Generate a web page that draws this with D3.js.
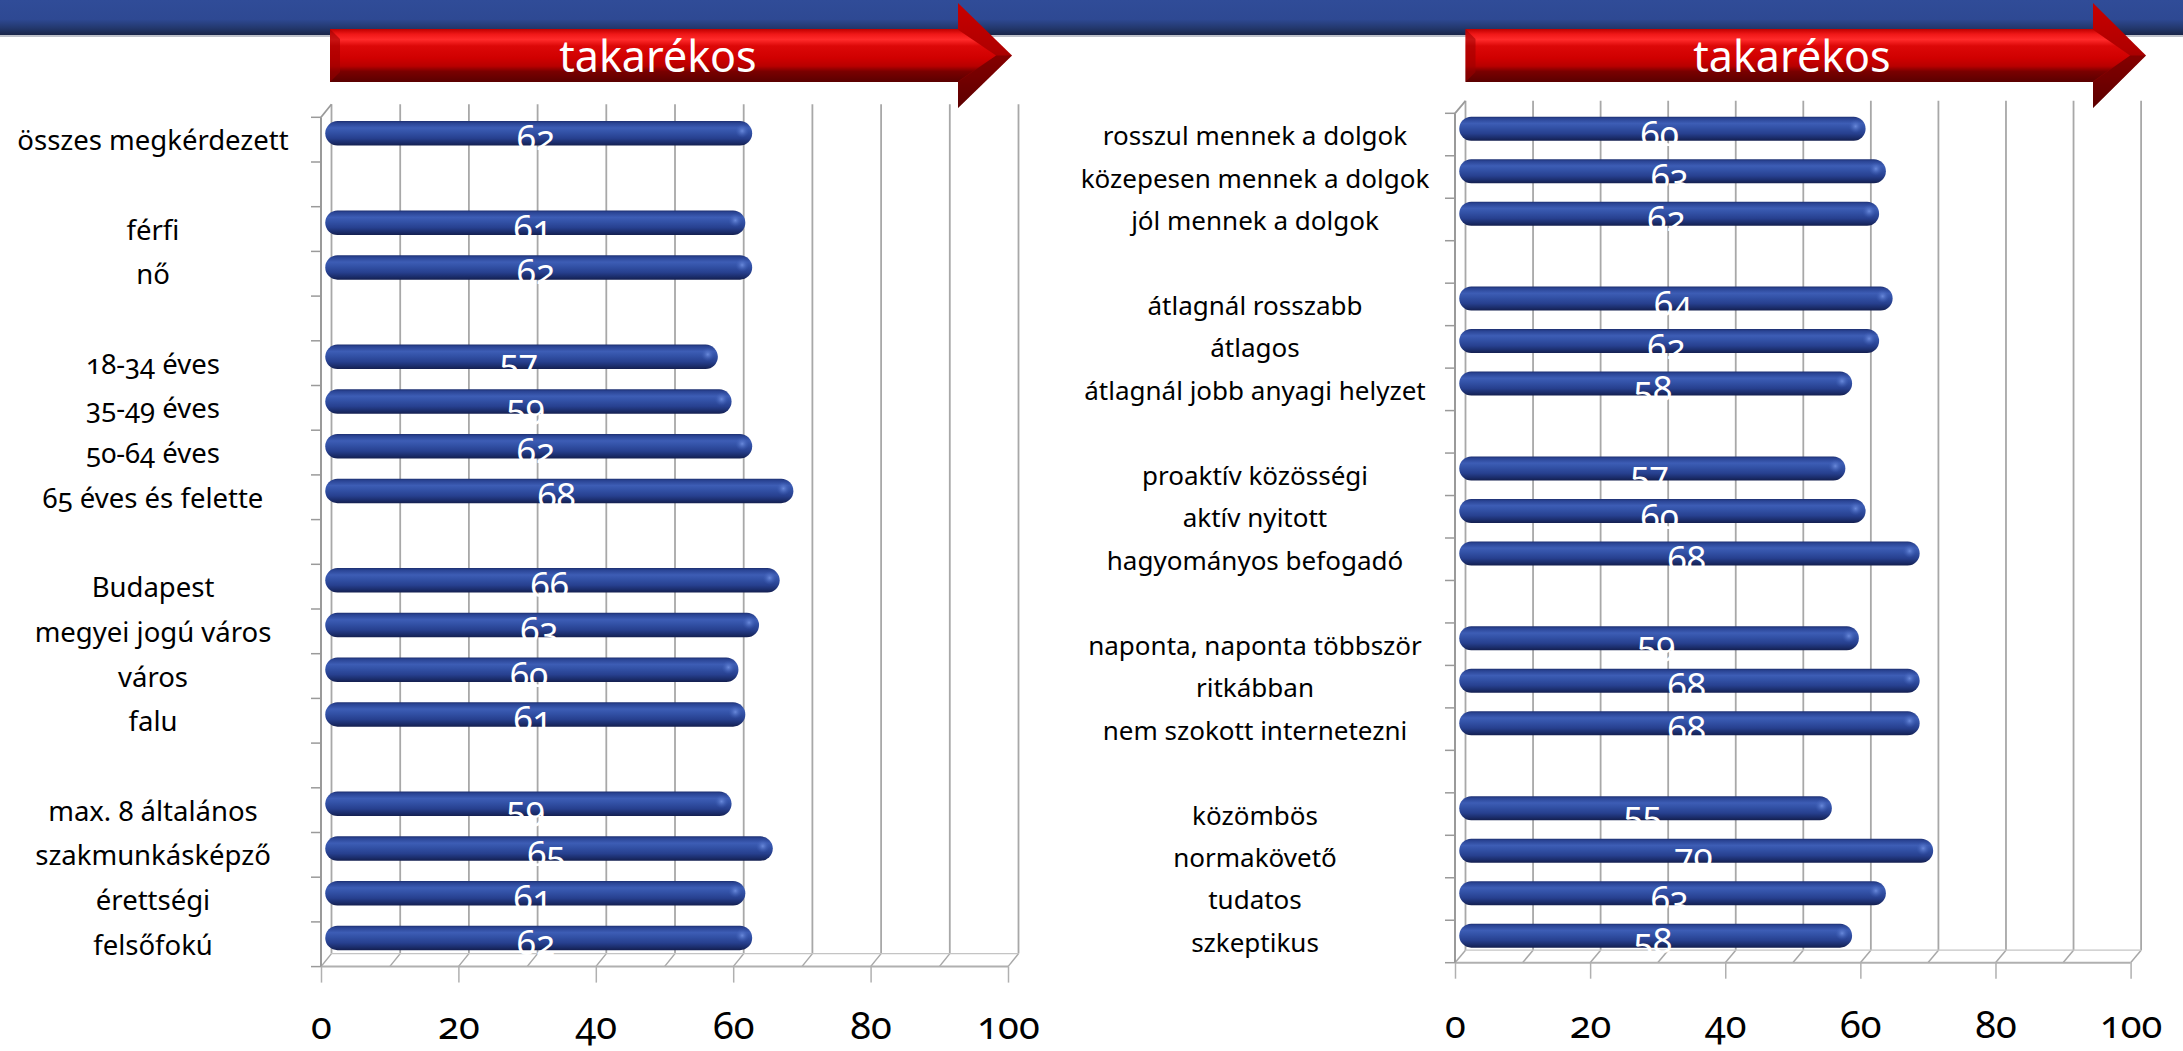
<!DOCTYPE html>
<html>
<head>
<meta charset="utf-8">
<script src="https://cdn.jsdelivr.net/npm/d3@7"></script>
<style>
  html, body { margin: 0; padding: 0; background: #ffffff; }
  svg { display: block; }
  text { font-family: "Noto Sans", "Open Sans", sans-serif; font-variant-numeric: oldstyle-nums; font-feature-settings: "onum" 1; }
</style>
</head>
<body>
<svg id="chart" width="2183" height="1051"></svg>
<script>
// ---- data ----
const bannerTitle = "takarékos";

const leftCategories = [
  "összes megkérdezett", "",
  "férfi", "nő", "",
  "18-34 éves", "35-49 éves", "50-64 éves", "65 éves és felette", "",
  "Budapest", "megyei jogú város", "város", "falu", "",
  "max. 8 általános", "szakmunkásképző", "érettségi", "felsőfokú"
];
const leftValues = [
  62, null,
  61, 62, null,
  57, 59, 62, 68, null,
  66, 63, 60, 61, null,
  59, 65, 61, 62
];

const rightCategories = [
  "rosszul mennek a dolgok", "közepesen mennek a dolgok", "jól mennek a dolgok", "",
  "átlagnál rosszabb", "átlagos", "átlagnál jobb anyagi helyzet", "",
  "proaktív közösségi", "aktív nyitott", "hagyományos befogadó", "",
  "naponta, naponta többször", "ritkábban", "nem szokott internetezni", "",
  "közömbös", "normakövető", "tudatos", "szkeptikus"
];
const rightValues = [
  60, 63, 62, null,
  64, 62, 58, null,
  57, 60, 68, null,
  59, 68, 68, null,
  55, 70, 63, 58
];

const axisTicks = [0, 20, 40, 60, 80, 100];
const valueDomain = [0, 100];

// ---- layout ----
const W = 2183, H = 1051;
const svg = d3.select("#chart").attr("viewBox", `0 0 ${W} ${H}`);
const defs = svg.append("defs");

function linGrad(id, stops, attrs) {
  const g = defs.append("linearGradient").attr("id", id)
    .attr("x1", 0).attr("y1", 0).attr("x2", 0).attr("y2", 1);
  if (attrs) Object.entries(attrs).forEach(([k, v]) => g.attr(k, v));
  stops.forEach(([o, c]) => g.append("stop").attr("offset", o).attr("stop-color", c));
  return g;
}

// cylinder shading for the bars
linGrad("barGrad", [
  [0, "#1d2f70"], [0.08, "#2a4494"], [0.28, "#3d5db5"], [0.45, "#3352a7"],
  [0.7, "#27408f"], [0.88, "#1b2d6b"], [1, "#141f4f"]
]);
const hl = defs.append("radialGradient").attr("id", "capGlow");
hl.append("stop").attr("offset", 0).attr("stop-color", "#6f8fe0").attr("stop-opacity", 0.9);
hl.append("stop").attr("offset", 1).attr("stop-color", "#3d5db5").attr("stop-opacity", 0);

// header band
linGrad("bandGrad", [[0, "#304c98"], [0.55, "#2e4993"], [0.8, "#23386d"], [1, "#1a2549"]]);

// arrow shading
linGrad("arrowBody", [
  [0, "#c00000"], [0.1, "#f01818"], [0.2, "#ff2a2a"], [0.32, "#dc0808"],
  [0.55, "#d00000"], [0.7, "#b80000"], [0.8, "#7a0000"], [1, "#5a0000"]
], { gradientUnits: "userSpaceOnUse", y1: 29, y2: 82 });
linGrad("arrowHead", [
  [0, "#c80000"], [0.45, "#b00000"], [0.7, "#8a0000"], [1, "#5e0000"]
], { gradientUnits: "userSpaceOnUse", y1: 3, y2: 108 });

svg.append("rect").attr("x", 0).attr("y", 0).attr("width", W).attr("height", 35)
  .attr("fill", "url(#bandGrad)");
svg.append("line").attr("x1", 0).attr("x2", W).attr("y1", 36).attr("y2", 36)
  .attr("stroke", "#a9acb8").attr("stroke-width", 1.5);

const panels = [
  {
    cats: leftCategories, vals: leftValues,
    front: [321, 1008], dx: 10.5, dy: -13, top: 117.3, bottom: 966.6,
    labelX: 153, labelSize: 27.5, barOffset: 3.8, barH: 24.5, axisBaseline: 72,
    arrow: { x0: 330, base: 958, tip: 1012 }, titleX: 658
  },
  {
    cats: rightCategories, vals: rightValues,
    front: [1455, 2130.6], dx: 10.5, dy: -12.5, top: 113.3, bottom: 962.7,
    labelX: 1255, labelSize: 26, barOffset: 3.4, barH: 24, axisBaseline: 75,
    arrow: { x0: 1465.5, base: 2093, tip: 2146 }, titleX: 1792
  }
];

function drawArrow(a, titleX) {
  const g = svg.append("g");
  const yT = 29, yB = 82, yC = 55.5, hT = 3, hB = 108;
  g.append("path")
    .attr("d", `M${a.base},${hT} L${a.tip},${yC} L${a.base},${hB} Z`)
    .attr("fill", "url(#arrowHead)");
  // darker lower facet of the head
  g.append("path")
    .attr("d", `M${a.base},${yB} L${a.tip - 16},${yC} L${a.tip},${yC} L${a.base},${hB} Z`)
    .attr("fill", "#5a0000").attr("opacity", 0.45);
  g.append("rect").attr("x", a.x0).attr("y", yT).attr("width", a.base - a.x0).attr("height", yB - yT)
    .attr("fill", "url(#arrowBody)");
  g.append("path")
    .attr("d", `M${a.base - 1},${yT} L${a.tip - 16},${yC} L${a.base - 1},${yB} Z`)
    .attr("fill", "url(#arrowBody)");
  // left bevel
  g.append("path")
    .attr("d", `M${a.x0},${yT} L${a.x0 + 10},${yT + 10} L${a.x0 + 10},${yB - 10} L${a.x0},${yB} Z`)
    .attr("fill", "#9a0000").attr("opacity", 0.55);
  g.append("text").attr("x", titleX).attr("y", 72)
    .attr("text-anchor", "middle").attr("fill", "#ffffff")
    .attr("font-size", 43).text(bannerTitle);
}

panels.forEach(p => {
  const g = svg.append("g");
  const x = d3.scaleLinear().domain(valueDomain).range(p.front);
  const xBack = v => x(v) + p.dx;
  const xMid = v => x(v) + p.dx / 2;
  const y = d3.scaleBand().domain(d3.range(p.cats.length)).range([p.top, p.bottom]).padding(0);
  const step = y.step();
  const gridColor = "#a8a8a8";
  const grid = x.ticks(10);

  // back wall gridlines
  g.selectAll(".grid").data(grid).join("line")
    .attr("x1", d => xBack(d)).attr("x2", d => xBack(d))
    .attr("y1", p.top + p.dy).attr("y2", p.bottom + p.dy)
    .attr("stroke", gridColor).attr("stroke-width", 1.8);
  // floor
  g.selectAll(".floor").data(grid).join("line")
    .attr("x1", d => x(d)).attr("x2", d => xBack(d))
    .attr("y1", p.bottom).attr("y2", p.bottom + p.dy)
    .attr("stroke", gridColor).attr("stroke-width", 1.5);
  g.append("line").attr("x1", x(0)).attr("x2", x(100)).attr("y1", p.bottom).attr("y2", p.bottom)
    .attr("stroke", "#b0b0b0").attr("stroke-width", 2);
  g.append("line").attr("x1", xBack(0)).attr("x2", xBack(100)).attr("y1", p.bottom + p.dy).attr("y2", p.bottom + p.dy)
    .attr("stroke", "#c4c4c4").attr("stroke-width", 1.2);
  // side wall
  g.append("line").attr("x1", x(0)).attr("x2", x(0)).attr("y1", p.top).attr("y2", p.bottom)
    .attr("stroke", "#9a9a9a").attr("stroke-width", 2);
  g.append("line").attr("x1", x(0)).attr("x2", xBack(0)).attr("y1", p.top).attr("y2", p.top + p.dy)
    .attr("stroke", "#9a9a9a").attr("stroke-width", 1.8);
  g.selectAll(".ytick").data(d3.range(p.cats.length + 1)).join("line")
    .attr("x1", x(0) - 10).attr("x2", x(0))
    .attr("y1", d => p.top + d * step).attr("y2", d => p.top + d * step)
    .attr("stroke", "#9a9a9a").attr("stroke-width", 1.5);

  // value axis
  const axis = g.append("g").attr("transform", `translate(0,${p.bottom})`)
    .call(d3.axisBottom(x).tickValues(axisTicks).tickSize(16).tickFormat(d3.format("d")));
  axis.select(".domain").remove();
  axis.selectAll(".tick line").attr("stroke", "#b0b0b0").attr("stroke-width", 1.5);
  axis.selectAll(".tick text").attr("y", p.axisBaseline).attr("dy", null)
    .attr("font-size", 38).attr("fill", "#000")
    .style("font-family", '"Noto Sans", sans-serif');

  const rows = p.cats.map((c, i) => ({ i, cat: c, v: p.vals[i] }));
  const bars = rows.filter(r => r.v != null);

  // bars
  const bg = g.selectAll(".bar").data(bars).join("g");
  bg.append("rect")
    .attr("x", xMid(0) - 1).attr("y", d => y(d.i) + p.barOffset)
    .attr("width", d => xMid(d.v) - xMid(0) + 1).attr("height", p.barH)
    .attr("rx", p.barH / 2).attr("ry", p.barH / 2)
    .attr("fill", "url(#barGrad)");
  bg.append("ellipse")
    .attr("cx", d => xMid(d.v) - 10).attr("cy", d => y(d.i) + p.barOffset + p.barH * 0.4)
    .attr("rx", 7).attr("ry", 7).attr("fill", "url(#capGlow)");

  // value labels
  g.selectAll(".val").data(bars).join("text")
    .attr("x", d => x(d.v / 2) + 2).attr("y", d => y(d.i) + 33)
    .attr("text-anchor", "middle").attr("fill", "#ffffff").attr("font-size", 35)
    .text(d => d.v);

  // category labels
  g.selectAll(".cat").data(rows.filter(r => r.cat)).join("text")
    .attr("x", p.labelX).attr("y", d => y(d.i) + step / 2 + 10.5)
    .attr("text-anchor", "middle").attr("fill", "#000").attr("font-size", p.labelSize)
    .text(d => d.cat);

  drawArrow(p.arrow, p.titleX);
});
</script>
</body>
</html>
